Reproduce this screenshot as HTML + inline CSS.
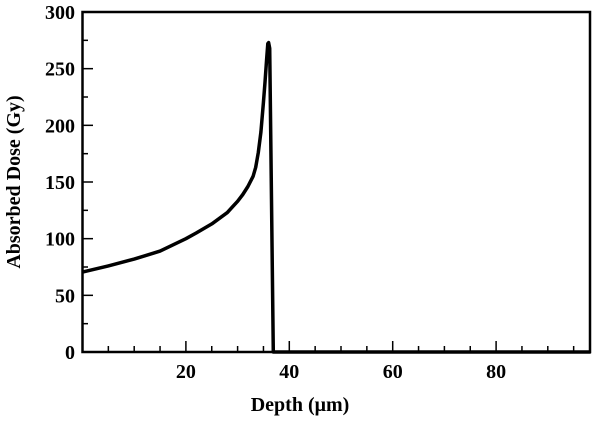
<!DOCTYPE html>
<html><head><meta charset="utf-8"><style>
body{margin:0;background:#fff;}
svg text{font-family:"Liberation Serif",serif;font-weight:bold;fill:#000;}
</style></head><body>
<svg id="chart" width="600" height="422" viewBox="0 0 600 422">
<g id="axes"></g>
<path id="curve" fill="none" stroke="#000" stroke-width="3.5" stroke-linejoin="round"/>
<rect x="82.5" y="12" width="507.5" height="340" fill="none" stroke="#000" stroke-width="2.5"/>
<text x="300" y="411" font-size="20" text-anchor="middle">Depth (μm)</text>
<text transform="translate(20,182) rotate(-90)" font-size="20" text-anchor="middle">Absorbed Dose (Gy)</text>
</svg>
<script>
const depth=[0,5,10,15,20,22,25,28,29,30,31,32,33,33.5,34,34.5,35,35.3,35.6,35.85,36,36.2,36.9,98.3];
const dose=[70.5,76,82,89,100,105,113,123,128,133,139,146,155,163,176,194,220,238,258,272,273,268,0,0];
const xTicks=[20,40,60,80];
const yTicks=[0,50,100,150,200,250,300];
const X=v=>82.5+v*5.17, Y=v=>352-v*340/300;
const g=document.getElementById('axes');
const NS='http://www.w3.org/2000/svg';
function mk(t,a){const e=document.createElementNS(NS,t);for(const k in a)e.setAttribute(k,a[k]);g.appendChild(e);return e;}
for(let v=5;v<98;v+=5){const l=mk('line',{x1:X(v),x2:X(v),y1:352,y2:v%20==0?341:346,stroke:'#000','stroke-width':1.5});

}
for(let v=25;v<300;v+=25){const l=mk('line',{x1:82.5,x2:v%50==0?93:88,y1:Y(v),y2:Y(v),stroke:'#000','stroke-width':1.5});

}
xTicks.forEach(v=>{const t=mk('text',{x:X(v),y:378,'font-size':20,'text-anchor':'middle'});t.textContent=v;

});
yTicks.forEach(v=>{const t=mk('text',{x:75,y:Y(v)+7,'font-size':20,'text-anchor':'end'});t.textContent=v;

});
document.getElementById('curve').setAttribute('d',depth.map((d,i)=>(i?'L':'M')+X(d).toFixed(1)+','+Y(dose[i]).toFixed(1)).join(''));
</script>
</body></html>
